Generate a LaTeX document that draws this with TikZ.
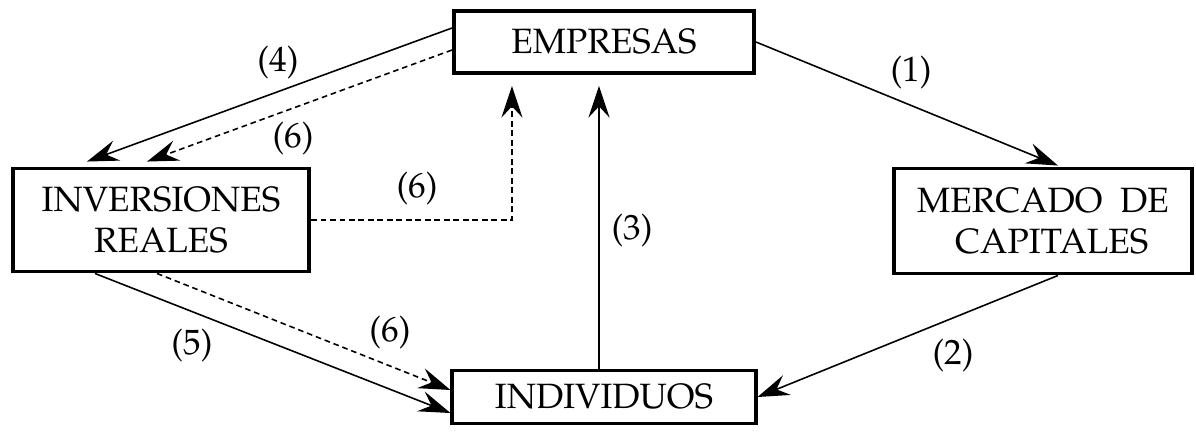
\documentclass[tikz,border=0pt]{standalone}
\usepackage[T1]{fontenc}
\usepackage{mathpazo}
\usetikzlibrary{arrows.meta,positioning}

\begin{document}
\begin{tikzpicture}[x=0.01cm, y=-0.01cm,
    box/.style={draw, line width=1.1pt, align=center, inner sep=0pt, font=\fontsize{10}{11.5}\selectfont},
    flow/.style={-{Stealth[length=9pt, width=6pt, inset=3.2pt]}, line width=0.45pt},
    fine dashed/.style={dash pattern=on 1.6pt off 1.1pt},
    lab/.style={font=\fontsize{10}{12}\selectfont, inner sep=0pt}]
    \useasboundingbox (0,0) rectangle (1196,432);

    \node [box, minimum width=3.0cm, minimum height=0.62cm] (emp) at (604,42) {EMPRESAS};
    \node [box, minimum width=2.96cm, minimum height=1.03cm] (inv) at (161,220) {INVERSIONES\\REALES};
    \node [box, minimum width=2.97cm, minimum height=1.05cm] (merc) at (1043,221) {MERCADO\ \ DE\\\ \ CAPITALES};
    \node [box, minimum width=3.03cm, minimum height=0.53cm] (ind) at (604,397) {INDIVIDUOS};

    \node [lab] (l1) at (911,72) {(1)};
    \node [lab] (l2) at (953,355) {(2)};
    \node [lab] (l3) at (632,230) {(3)};
    \node [lab] (l4) at (278,62) {(4)};
    \node [lab] (l5) at (192,345) {(5)};
    \node [lab] (l6a) at (293,138) {(6)};
    \node [lab] (l6b) at (417,188) {(6)};
    \node [lab] (l6c) at (390,332) {(6)};

    % solid flows
    \draw [flow] (emp.east) -- ([xshift=0.15cm, yshift=0.01cm]merc.north);
    \draw [flow] ([xshift=0.15cm]merc.south) -- (ind.east);
    \draw [flow] ([xshift=-0.05cm]ind.north) -- ([xshift=-0.05cm, yshift=-0.11cm]emp.south);
    \draw [flow] ([yshift=0.14cm]emp.west) -- ([xshift=-0.74cm, yshift=0.05cm]inv.north);
    \draw [flow] ([xshift=-0.66cm]inv.south) -- ([yshift=-0.16cm]ind.west);

    % dashed flows
    \draw [flow, fine dashed] ([yshift=-0.08cm]emp.west) -- ([xshift=-0.14cm, yshift=0.05cm]inv.north);
    \draw [flow, fine dashed] (inv.east) -| ([xshift=-0.92cm, yshift=-0.11cm]emp.south);
    \draw [flow, fine dashed] ([xshift=-0.04cm]inv.south) -- ([yshift=0.07cm]ind.west);
\end{tikzpicture}
\end{document}
